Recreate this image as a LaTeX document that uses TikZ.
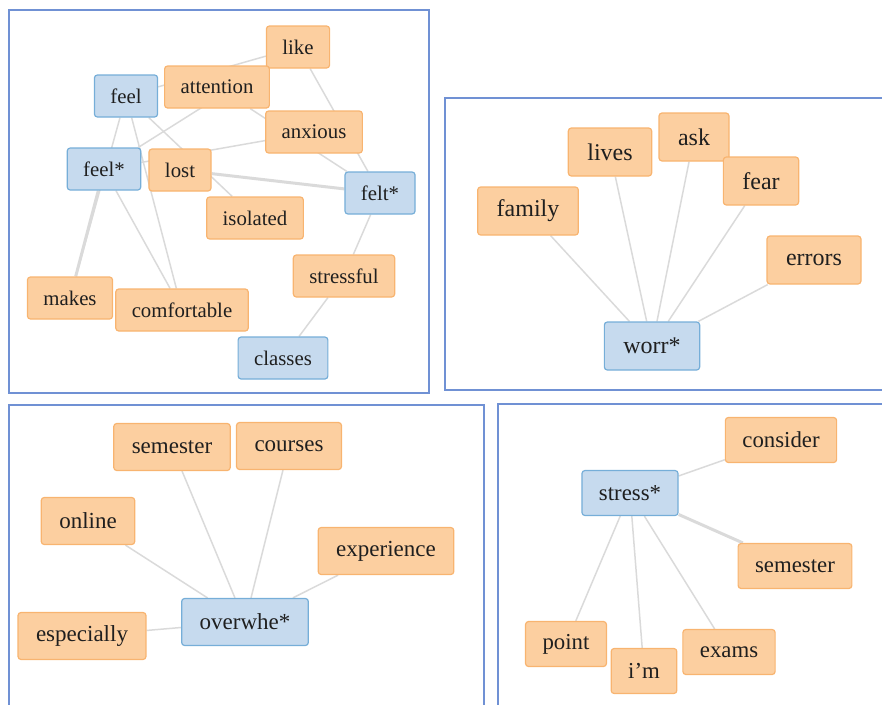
\documentclass[tikz,border=0pt]{standalone}
\usepackage{fontspec}
\setmainfont{Liberation Serif}
\usetikzlibrary{backgrounds,positioning}
\definecolor{wordfill}{RGB}{252,207,160}
\definecolor{wordline}{RGB}{248,180,112}
\definecolor{stemfill}{RGB}{198,218,238}
\definecolor{stemline}{RGB}{118,174,216}
\definecolor{linkgray}{RGB}{218,218,218}
\definecolor{framecol}{RGB}{112,145,212}

\begin{document}
\begin{tikzpicture}[x=1pt,y=-1pt]
      \tikzstyle{word}=[rectangle, draw=wordline, fill=wordfill, rounded corners=3pt, line width=1.2pt, text=black!88, inner ysep=0pt]
      \tikzstyle{stem}=[word, draw=stemline, fill=stemfill]
      \tikzstyle{link}=[draw=linkgray, line width=1.5pt]
      \tikzstyle{heavy}=[draw=linkgray, line width=3pt]
      \tikzstyle{panel}=[draw=framecol, line width=1.2pt]
      \clip (0,0) rectangle (882,704);
      % frames
      \draw[panel] (9,10) rectangle (429,393);
      \draw[panel] (445,98) rectangle (895,390);
      \draw[panel] (9,405) rectangle (484,720);
      \draw[panel] (498,404) rectangle (895,720);
      % top left
      \begin{scope}[every node/.append style={font=\fontsize{20.8}{24}\selectfont, minimum height=42pt, inner xsep=16pt}]
      \node[word] (like) at (298,47) {like};
      \node[word] (attention) at (217,87) {attention};
      \node[stem] (feel) at (126,96) {feel};
      \node[word] (anxious) at (314,132) {anxious};
      \node[stem] (feelst) at (104,169) {feel*};
      \node[word] (lost) at (180,170) {lost};
      \node[stem] (felt) at (380,193) {felt*};
      \node[word] (isolated) at (255,218) {isolated};
      \node[word] (stressful) at (344,276) {stressful};
      \node[word] (makes) at (70,298) {makes};
      \node[word] (comfortable) at (182,310) {comfortable};
      \node[stem] (classes) at (283,358) {classes};
      \end{scope}
      \begin{pgfonlayer}{background}
      \draw[link] (like) -- (feel);
      \draw[link] (like) -- (feelst);
      \draw[link] (like) -- (felt);
      \draw[link] (attention) -- (felt);
      \draw[link] (anxious) -- (feelst);
      \draw[link] (feel) -- (makes);
      \draw[link] (feel) -- (comfortable);
      \draw[link] (feel) -- (isolated);
      \draw[heavy] (lost) -- (felt);
      \draw[link] (feelst) -- (comfortable);
      \draw[heavy] (feelst) -- (makes);
      \draw[link] (felt) -- (stressful);
      \draw[link] (stressful) -- (classes);
      \end{pgfonlayer}
      % top right
      \begin{scope}[every node/.append style={font=\fontsize{24}{28}\selectfont, minimum height=48pt, inner xsep=19pt}]
      \node[word] (lives) at (610,152) {lives};
      \node[word] (ask) at (694,137) {ask};
      \node[word] (fear) at (761,181) {fear};
      \node[word] (family) at (528,211) {family};
      \node[word] (errors) at (814,260) {errors};
      \node[stem] (worr) at (652,346) {worr*};
      \end{scope}
      \begin{pgfonlayer}{background}
      \foreach \w in {family,lives,ask,fear,errors}
        \draw[link] (worr) -- (\w);
      \end{pgfonlayer}
      % bottom left
      \begin{scope}[every node/.append style={font=\fontsize{23}{27}\selectfont, minimum height=47pt, inner xsep=18pt}]
      \node[word] (semesterA) at (172,447) {semester};
      \node[word] (courses) at (289,446) {courses};
      \node[word] (online) at (88,521) {online};
      \node[word] (experience) at (386,551) {experience};
      \node[stem] (overwhe) at (245,622) {overwhe*};
      \node[word] (especially) at (82,636) {especially};
      \end{scope}
      \begin{pgfonlayer}{background}
      \foreach \w in {semesterA,courses,online,experience,especially}
        \draw[link] (overwhe) -- (\w);
      \end{pgfonlayer}
      % bottom right
      \begin{scope}[every node/.append style={font=\fontsize{22.8}{26}\selectfont, minimum height=45pt, inner xsep=17pt}]
      \node[word] (consider) at (781,440) {consider};
      \node[stem] (stress) at (630,493) {stress*};
      \node[word] (semesterB) at (795,566) {semester};
      \node[word] (point) at (566,644) {point};
      \node[word] (im) at (644,671) {i’m};
      \node[word] (exams) at (729,652) {exams};
      \end{scope}
      \begin{pgfonlayer}{background}
      \draw[link] (stress) -- (consider);
      \draw[heavy] (stress) -- (semesterB);
      \draw[link] (stress) -- (point);
      \draw[link] (stress) -- (im);
      \draw[link] (stress) -- (exams);
      \end{pgfonlayer}
    \end{tikzpicture}
\end{document}
